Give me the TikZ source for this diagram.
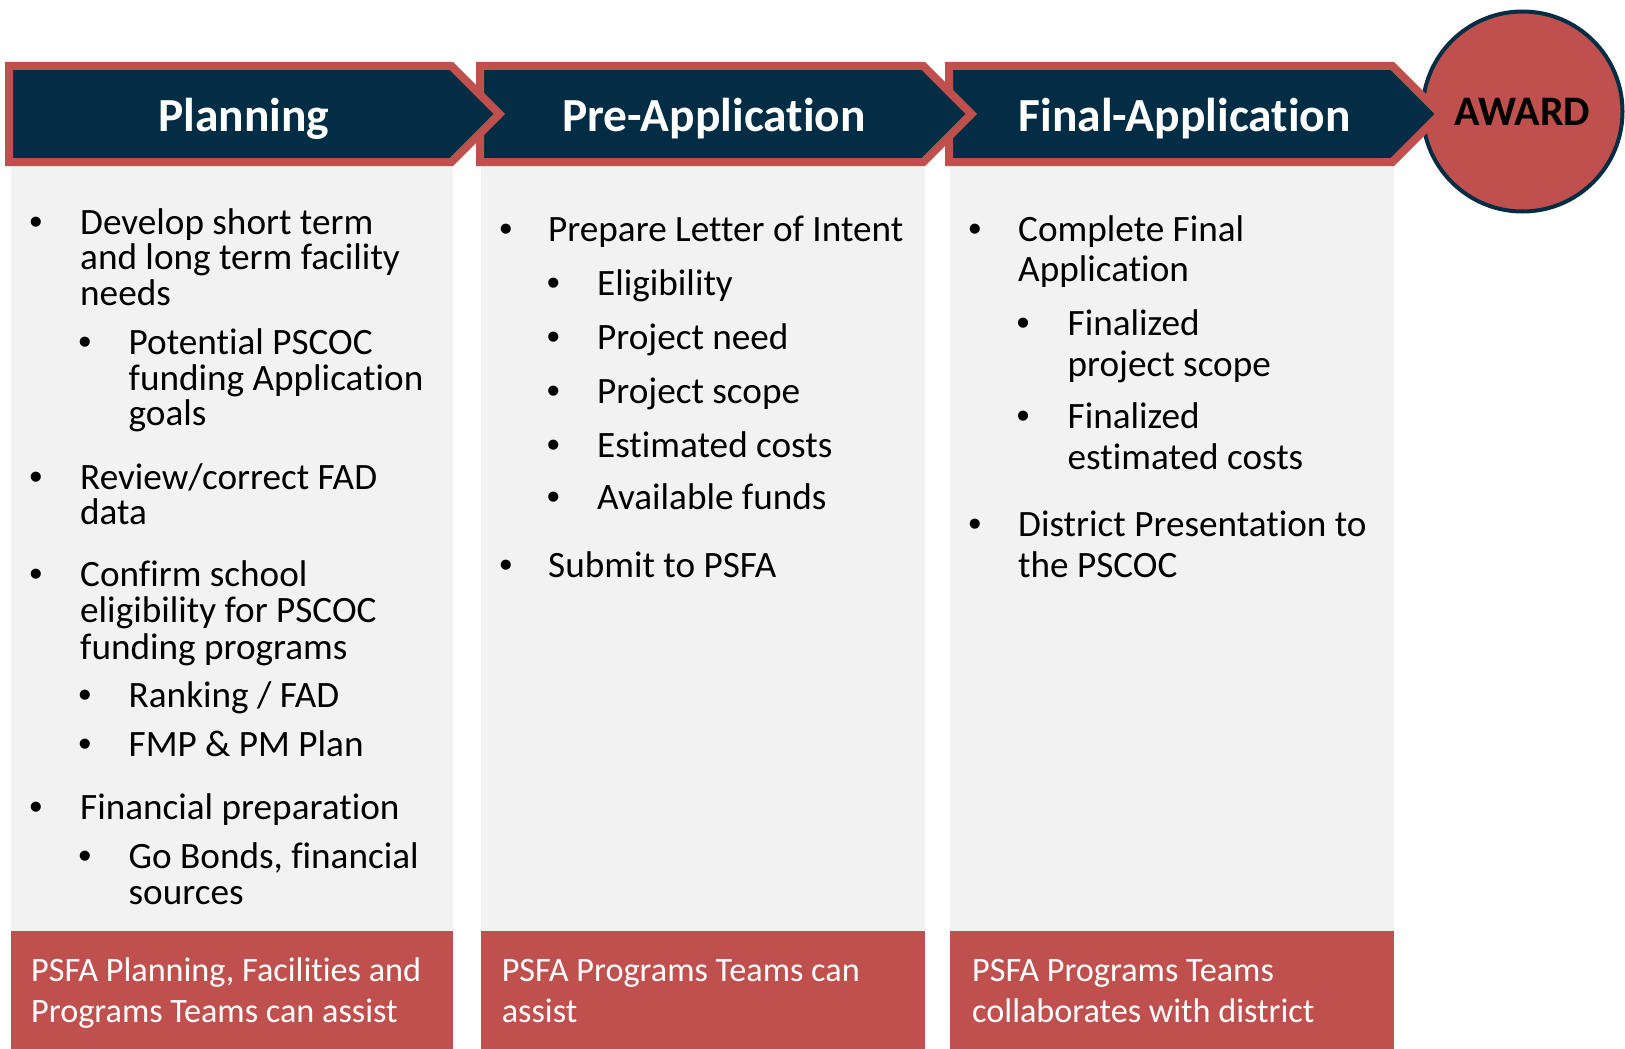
\documentclass[tikz,border=0pt]{standalone}
\usepackage{fontspec}
\setmainfont{Carlito}[Ligatures={NoCommon}]
\newfontfamily\bulfont{Liberation Sans}
\definecolor{navy}{RGB}{2,45,68}
\definecolor{brick}{RGB}{192,80,77}
\definecolor{lightgrey}{RGB}{242,242,242}
\begin{document}
\begin{tikzpicture}[x=1pt,y=-1pt,
  chev/.style={fill=navy,draw=brick,line width=8pt,miter limit=10},
  hdr/.style={text=white,inner sep=0pt,anchor=base,font=\fontsize{47.5}{57}\selectfont\bfseries},
  bodytxt/.style={text=black,inner sep=0pt,anchor=base west,font=\fontsize{37.2}{36}\selectfont},
  bul/.style={text=black,inner sep=0pt,anchor=base,font=\fontsize{37.2}{36}\selectfont\bulfont},
  foot/.style={text=white,inner sep=0pt,anchor=base west,font=\fontsize{34.2}{41}\selectfont}]
\useasboundingbox (0,0) rectangle (1625,1049);
% columns
\fill[lightgrey] (11,166) rectangle (453,931);
\fill[brick] (11,931) rectangle (453,1049);
\fill[lightgrey] (481,166) rectangle (925,931);
\fill[brick] (481,931) rectangle (925,1049);
\fill[lightgrey] (950,166) rectangle (1394,931);
\fill[brick] (950,931) rectangle (1394,1049);
% award circle
\node[circle,draw=navy,line width=4pt,fill=brick,minimum size=200pt,inner sep=0pt,
  font=\fontsize{42}{50}\selectfont\bfseries] (award) at (1522.5,111.5) {AWARD};
% chevrons (later stages drawn first)
\draw[chev] (949,66) -- (1392.34,66) -- (1440.34,114) -- (1392.34,162) -- (949,162) -- cycle;
\draw[chev] (480,66) -- (923.34,66) -- (971.34,114) -- (923.34,162) -- (480,162) -- cycle;
\draw[chev] (9,66) -- (451.34,66) -- (499.34,114) -- (451.34,162) -- (9,162) -- cycle;
\node[hdr] (h1) at (243.6,131) {Planning};
\node[hdr] (h2) at (714,131) {Pre-Application};
\node[hdr] (h3) at (1184.6,131) {Final-Application};
% Planning column
\node[bul] (pb1) at (36,234) {•};
\node[bodytxt] (pt1) at (80,234) {Develop short term};
\node[bodytxt] (pt2) at (80,269) {and long term facility};
\node[bodytxt] (pt3) at (80,305) {needs};
\node[bul] (pb2) at (85,354) {•};
\node[bodytxt] (pt4) at (128.5,354) {Potential PSCOC};
\node[bodytxt] (pt5) at (128.5,390) {funding Application};
\node[bodytxt] (pt6) at (128.5,425.5) {goals};
\node[bul] (pb3) at (36,489) {•};
\node[bodytxt] (pt7) at (80,489) {Review/correct FAD};
\node[bodytxt] (pt8) at (80,524) {data};
\node[bul] (pb4) at (36,586) {•};
\node[bodytxt] (pt9) at (80,586) {Confirm school};
\node[bodytxt] (pt10) at (80,622) {eligibility for PSCOC};
\node[bodytxt] (pt11) at (80,659) {funding programs};
\node[bul] (pb5) at (85,707) {•};
\node[bodytxt] (pt12) at (128.5,707) {Ranking / FAD};
\node[bul] (pb6) at (85,756) {•};
\node[bodytxt] (pt13) at (128.5,756) {FMP \& PM Plan};
\node[bul] (pb7) at (36,819) {•};
\node[bodytxt] (pt14) at (80,819) {Financial preparation};
\node[bul] (pb8) at (85,868) {•};
\node[bodytxt] (pt15) at (128.5,868) {Go Bonds, financial};
\node[bodytxt] (pt16) at (128.5,904) {sources};
% Pre-Application column
\node[bul] (qb1) at (506,241) {•};
\node[bodytxt] (qt1) at (548,241) {Prepare Letter of Intent};
\node[bul] (qb2) at (553.4,295) {•};
\node[bodytxt] (qt2) at (597,295) {Eligibility};
\node[bul] (qb3) at (553.4,349) {•};
\node[bodytxt] (qt3) at (597,349) {Project need};
\node[bul] (qb4) at (553.4,403) {•};
\node[bodytxt] (qt4) at (597,403) {Project scope};
\node[bul] (qb5) at (553.4,457) {•};
\node[bodytxt] (qt5) at (597,457) {Estimated costs};
\node[bul] (qb6) at (553.4,509.5) {•};
\node[bodytxt] (qt6) at (597,509.5) {Available funds};
\node[bul] (qb7) at (506,577) {•};
\node[bodytxt] (qt7) at (548,577) {Submit to PSFA};
% Final-Application column
\node[bul] (rb1) at (975,241) {•};
\node[bodytxt] (rt1) at (1018,241) {Complete Final};
\node[bodytxt] (rt2) at (1018,281.5) {Application};
\node[bul] (rb2) at (1023,335.5) {•};
\node[bodytxt] (rt3) at (1067.5,335.5) {Finalized};
\node[bodytxt] (rt4) at (1067.5,376) {project scope};
\node[bul] (rb3) at (1023,428.5) {•};
\node[bodytxt] (rt5) at (1067.5,428.5) {Finalized};
\node[bodytxt] (rt6) at (1067.5,469) {estimated costs};
\node[bul] (rb4) at (975,536.5) {•};
\node[bodytxt] (rt7) at (1018,536.5) {District Presentation to};
\node[bodytxt] (rt8) at (1018,577) {the PSCOC};
% footers
\node[foot] (f1a) at (31,981) {PSFA Planning, Facilities and};
\node[foot] (f1b) at (31,1022.5) {Programs Teams can assist};
\node[foot] (f2a) at (501.6,981) {PSFA Programs Teams can};
\node[foot] (f2b) at (501.6,1022.5) {assist};
\node[foot] (f3a) at (972,981) {PSFA Programs Teams};
\node[foot] (f3b) at (972,1022.5) {collaborates with district};
\end{tikzpicture}
\end{document}
